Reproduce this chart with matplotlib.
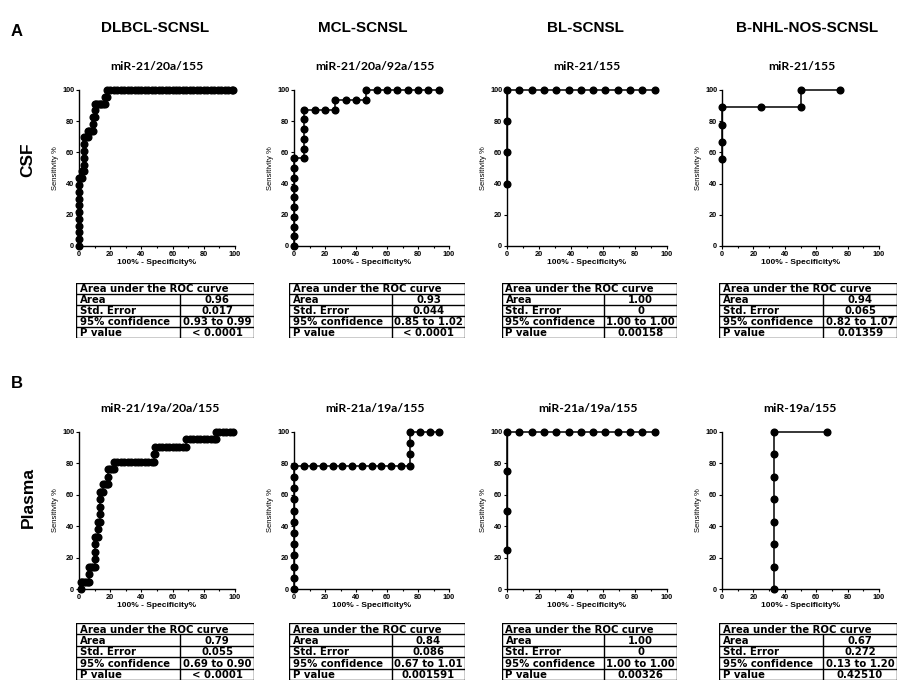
import matplotlib as mpl
mpl.use('Agg')
from matplotlib import pyplot as plt
from matplotlib.ticker import MultipleLocator

plt.rcParams['font.family'] = ['Liberation Sans', 'DejaVu Sans']

# ---- ROC points (100% - specificity, sensitivity) ----
# CSF
dlbcl_csf_x = [0, 0, 0, 0, 0, 0, 0, 0, 0, 0, 0, 1.1, 2.2, 2.2, 3.3, 3.3, 3.3, 3.3, 3.3, 3.3,
               4.4, 5.6, 5.6, 6.7, 7.8, 8.9, 8.9, 8.9, 10, 10, 10, 11.1, 12.2, 13.3, 14.4,
               15.6, 16.7, 16.7, 17.8, 17.8, 20.0, 22.2, 24.4, 26.7, 28.9, 31.1, 33.3, 35.6,
               37.8, 40.0, 42.2, 44.4, 46.7, 48.9, 51.1, 53.3, 55.6, 57.8, 60.0, 62.2, 64.4,
               66.7, 68.9, 71.1, 73.3, 75.6, 77.8, 80.0, 82.2, 84.4, 86.7, 88.9, 91.1, 93.3,
               95.6, 97.8, 98.9]
dlbcl_csf_y = [0, 4.3, 8.7, 13.0, 17.4, 21.7, 26.1, 30.4, 34.8, 39.1, 43.5, 43.5, 43.5, 47.8,
               47.8, 52.2, 56.5, 60.9, 65.2, 69.6, 69.6, 69.6, 73.9, 73.9, 73.9, 73.9, 78.3,
               82.6, 82.6, 87.0, 91.3, 91.3, 91.3, 91.3, 91.3, 91.3, 91.3, 95.7, 95.7, 100,
               100, 100, 100, 100, 100, 100, 100, 100, 100, 100, 100, 100, 100, 100, 100, 100,
               100, 100, 100, 100, 100, 100, 100, 100, 100, 100, 100, 100, 100, 100, 100, 100,
               100, 100, 100, 100, 100]

mcl_csf_x = [0, 0, 0, 0, 0, 0, 0, 0, 0, 0, 6.67, 6.67, 6.67, 6.67, 6.67, 6.67, 13.3, 20.0,
             26.7, 26.7, 33.3, 40.0, 46.7, 46.7, 53.3, 60.0, 66.7, 73.3, 80.0, 86.7, 93.3]
mcl_csf_y = [0, 6.25, 12.5, 18.75, 25, 31.25, 37.5, 43.75, 50, 56.25, 56.25, 62.5, 68.75, 75,
             81.25, 87.5, 87.5, 87.5, 87.5, 93.75, 93.75, 93.75, 93.75, 100, 100, 100, 100,
             100, 100, 100, 100]

bl_csf_x = [0, 0, 0, 0, 7.69, 15.4, 23.1, 30.8, 38.5, 46.2, 53.8, 61.5, 69.2, 76.9, 84.6, 92.3]
bl_csf_y = [40, 60, 80, 100, 100, 100, 100, 100, 100, 100, 100, 100, 100, 100, 100, 100]

nos_csf_x = [0, 0, 0, 0, 25, 50, 50, 75]
nos_csf_y = [55.6, 66.7, 77.8, 88.9, 88.9, 88.9, 100, 100]

# Plasma
dlbcl_pl_x = [1.1, 1.1, 2.2, 3.3, 4.4, 5.6, 6.7, 6.7, 6.7, 7.8, 8.9, 10, 10, 10, 10, 10, 11.1,
              12.2, 12.2, 12.2, 13.3, 13.3, 13.3, 13.3, 13.3, 14.4, 15.6, 15.6, 16.7, 17.8,
              18.9, 18.9, 18.9, 20.0, 21.1, 22.2, 22.2, 24.4, 26.7, 28.9, 31.1, 33.3, 35.6,
              37.8, 40.0, 42.2, 44.4, 46.7, 47.8, 47.8, 48.9, 48.9, 51.1, 53.3, 55.6, 57.8,
              60.0, 62.2, 64.4, 66.7, 68.9, 68.9, 71.1, 73.3, 75.6, 77.8, 80.0, 82.2, 84.4,
              86.7, 87.8, 87.8, 90.0, 92.2, 94.4, 96.7, 98.9]
dlbcl_pl_y = [0, 4.76, 4.76, 4.76, 4.76, 4.76, 4.76, 9.52, 14.29, 14.29, 14.29, 14.29, 19.05,
              23.81, 28.57, 33.33, 33.33, 33.33, 38.1, 42.86, 42.86, 47.62, 52.38, 57.14, 61.9,
              61.9, 61.9, 66.67, 66.67, 66.67, 66.67, 71.43, 76.19, 76.19, 76.19, 76.19, 80.95,
              80.95, 80.95, 80.95, 80.95, 80.95, 80.95, 80.95, 80.95, 80.95, 80.95, 80.95,
              80.95, 85.71, 85.71, 90.48, 90.48, 90.48, 90.48, 90.48, 90.48, 90.48, 90.48,
              90.48, 90.48, 95.24, 95.24, 95.24, 95.24, 95.24, 95.24, 95.24, 95.24, 95.24,
              95.24, 100, 100, 100, 100, 100, 100]

mcl_pl_x = [0, 0, 0, 0, 0, 0, 0, 0, 0, 0, 0, 0, 6.25, 12.5, 18.75, 25, 31.25, 37.5, 43.75,
            50, 56.25, 62.5, 68.75, 75, 75, 75, 75, 81.25, 87.5, 93.75]
mcl_pl_y = [0, 7.14, 14.29, 21.43, 28.57, 35.71, 42.86, 50, 57.14, 64.29, 71.43, 78.57,
            78.57, 78.57, 78.57, 78.57, 78.57, 78.57, 78.57, 78.57, 78.57, 78.57, 78.57,
            78.57, 85.71, 92.86, 100, 100, 100, 100]

bl_pl_x = [0, 0, 0, 0, 7.69, 15.4, 23.1, 30.8, 38.5, 46.2, 53.8, 61.5, 69.2, 76.9, 84.6, 92.3]
bl_pl_y = [25, 50, 75, 100, 100, 100, 100, 100, 100, 100, 100, 100, 100, 100, 100, 100]

nos_pl_x = [33.3, 33.3, 33.3, 33.3, 33.3, 33.3, 33.3, 33.3, 66.7]
nos_pl_y = [0, 14.29, 28.57, 42.86, 57.14, 71.43, 85.71, 100, 100]

# ---- labels ----
subtypes = ['DLBCL-SCNSL', 'MCL-SCNSL', 'BL-SCNSL', 'B-NHL-NOS-SCNSL']
csf_mirs = ['miR-21/20a/155', 'miR-21/20a/92a/155', 'miR-21/155', 'miR-21/155']
plasma_mirs = ['miR-21/19a/20a/155', 'miR-21a/19a/155', 'miR-21a/19a/155', 'miR-19a/155']

row_names = ['Area', 'Std. Error', '95% confidence', 'P value']
csf_stats = [['0.96', '0.017', '0.93 to 0.99', '< 0.0001'],
             ['0.93', '0.044', '0.85 to 1.02', '< 0.0001'],
             ['1.00', '0', '1.00 to 1.00', '0.00158'],
             ['0.94', '0.065', '0.82 to 1.07', '0.01359']]
plasma_stats = [['0.79', '0.055', '0.69 to 0.90', '< 0.0001'],
                ['0.84', '0.086', '0.67 to 1.01', '0.001591'],
                ['1.00', '0', '1.00 to 1.00', '0.00326'],
                ['0.67', '0.272', '0.13 to 1.20', '0.42510']]

csf_curves = [(dlbcl_csf_x, dlbcl_csf_y), (mcl_csf_x, mcl_csf_y),
              (bl_csf_x, bl_csf_y), (nos_csf_x, nos_csf_y)]
plasma_curves = [(dlbcl_pl_x, dlbcl_pl_y), (mcl_pl_x, mcl_pl_y),
                 (bl_pl_x, bl_pl_y), (nos_pl_x, nos_pl_y)]

W, H = 898, 700
fig = plt.figure(figsize=(W / 100, H / 100), dpi=100)


def box(x0, x1, top, bottom):
    # pixel box -> figure fraction rect
    return [x0 / W, 1 - bottom / H, (x1 - x0) / W, (bottom - top) / H]


def plot_roc(rect, xs, ys):
    ax = fig.add_axes(rect)
    ax.plot(xs, ys, color='black', lw=1.1, marker='o', ms=4.8, clip_on=False, zorder=3)
    ax.set_xlim(0, 100)
    ax.set_ylim(0, 100)
    ax.spines[['top', 'right']].set_visible(False)
    for s in ['left', 'bottom']:
        ax.spines[s].set_linewidth(1.0)
    ax.xaxis.set_major_locator(MultipleLocator(20))
    ax.xaxis.set_minor_locator(MultipleLocator(10))
    ax.yaxis.set_major_locator(MultipleLocator(20))
    ax.tick_params(which='major', length=2.5, width=0.8, labelsize=5.3, pad=1)
    ax.tick_params(which='minor', length=1.5, width=0.8)
    for lab in ax.get_xticklabels() + ax.get_yticklabels():
        lab.set_fontweight('bold')
    ax.set_ylabel('Sensitivity %', fontsize=5.5, labelpad=2)
    ax.set_xlabel('100% - Specificity%', fontsize=6, fontweight='bold', labelpad=1)
    return ax


def draw_table(rect, values):
    ax = fig.add_axes(rect)
    ax.set_xlim(0, 1)
    ax.set_ylim(0, 5)
    ax.axis('off')
    split = 0.585
    kw = dict(color='black', lw=1.0, solid_capstyle='butt')
    ax.plot([0, 1, 1, 0, 0], [0, 0, 5, 5, 0], **kw)
    for r in range(1, 5):
        ax.plot([0, 1], [r, r], **kw)
    ax.plot([split, split], [0, 4], **kw)
    tkw = dict(fontsize=7.3, fontweight='bold', va='baseline', family='DejaVu Sans')
    ax.text(0.02, 4.15, 'Area under the ROC curve', ha='left', **tkw)
    for i, (name, val) in enumerate(zip(row_names, values)):
        y = 3.15 - i
        ax.text(0.02, y, name, ha='left', **tkw)
        ax.text((split + 1) / 2, y, val, ha='center', **tkw)


# pixel layout of the four columns
ax_x = [(79, 235), (294, 449), (507, 667), (722, 879)]
tab_x = [(76, 254), (289, 465), (502, 677), (719, 897)]
head_x = [155, 363, 585, 807]
sub_x_csf = [157, 375, 587, 802]
sub_x_pl = [160, 375, 588, 800]

for i in range(4):
    plot_roc(box(ax_x[i][0], ax_x[i][1], 90, 246), *csf_curves[i])
    draw_table(box(tab_x[i][0], tab_x[i][1], 283, 338), csf_stats[i])
    plot_roc(box(ax_x[i][0], ax_x[i][1], 432, 589), *plasma_curves[i])
    draw_table(box(tab_x[i][0], tab_x[i][1], 623, 680), plasma_stats[i])

    fig.text(head_x[i] / W, 1 - 28 / H, subtypes[i], fontsize=11, fontweight='bold',
             ha='center', va='center')
    fig.text(sub_x_csf[i] / W, 1 - 66 / H, csf_mirs[i], fontsize=8.8, fontweight='bold',
             ha='center', va='center', family=['Lato', 'DejaVu Sans'])
    fig.text(sub_x_pl[i] / W, 1 - 408 / H, plasma_mirs[i], fontsize=8.8, fontweight='bold',
             ha='center', va='center', family=['Lato', 'DejaVu Sans'])

fig.text(17 / W, 1 - 32 / H, 'A', fontsize=12, fontweight='bold', ha='center', va='center')
fig.text(17 / W, 1 - 384 / H, 'B', fontsize=12, fontweight='bold', ha='center', va='center')
fig.text(28 / W, 1 - 160 / H, 'CSF', fontsize=12.5, fontweight='bold', rotation=90,
         ha='center', va='center')
fig.text(28 / W, 1 - 497 / H, 'Plasma', fontsize=12.5, fontweight='bold', rotation=90,
         ha='center', va='center')

fig.savefig('out.png', dpi=100)
